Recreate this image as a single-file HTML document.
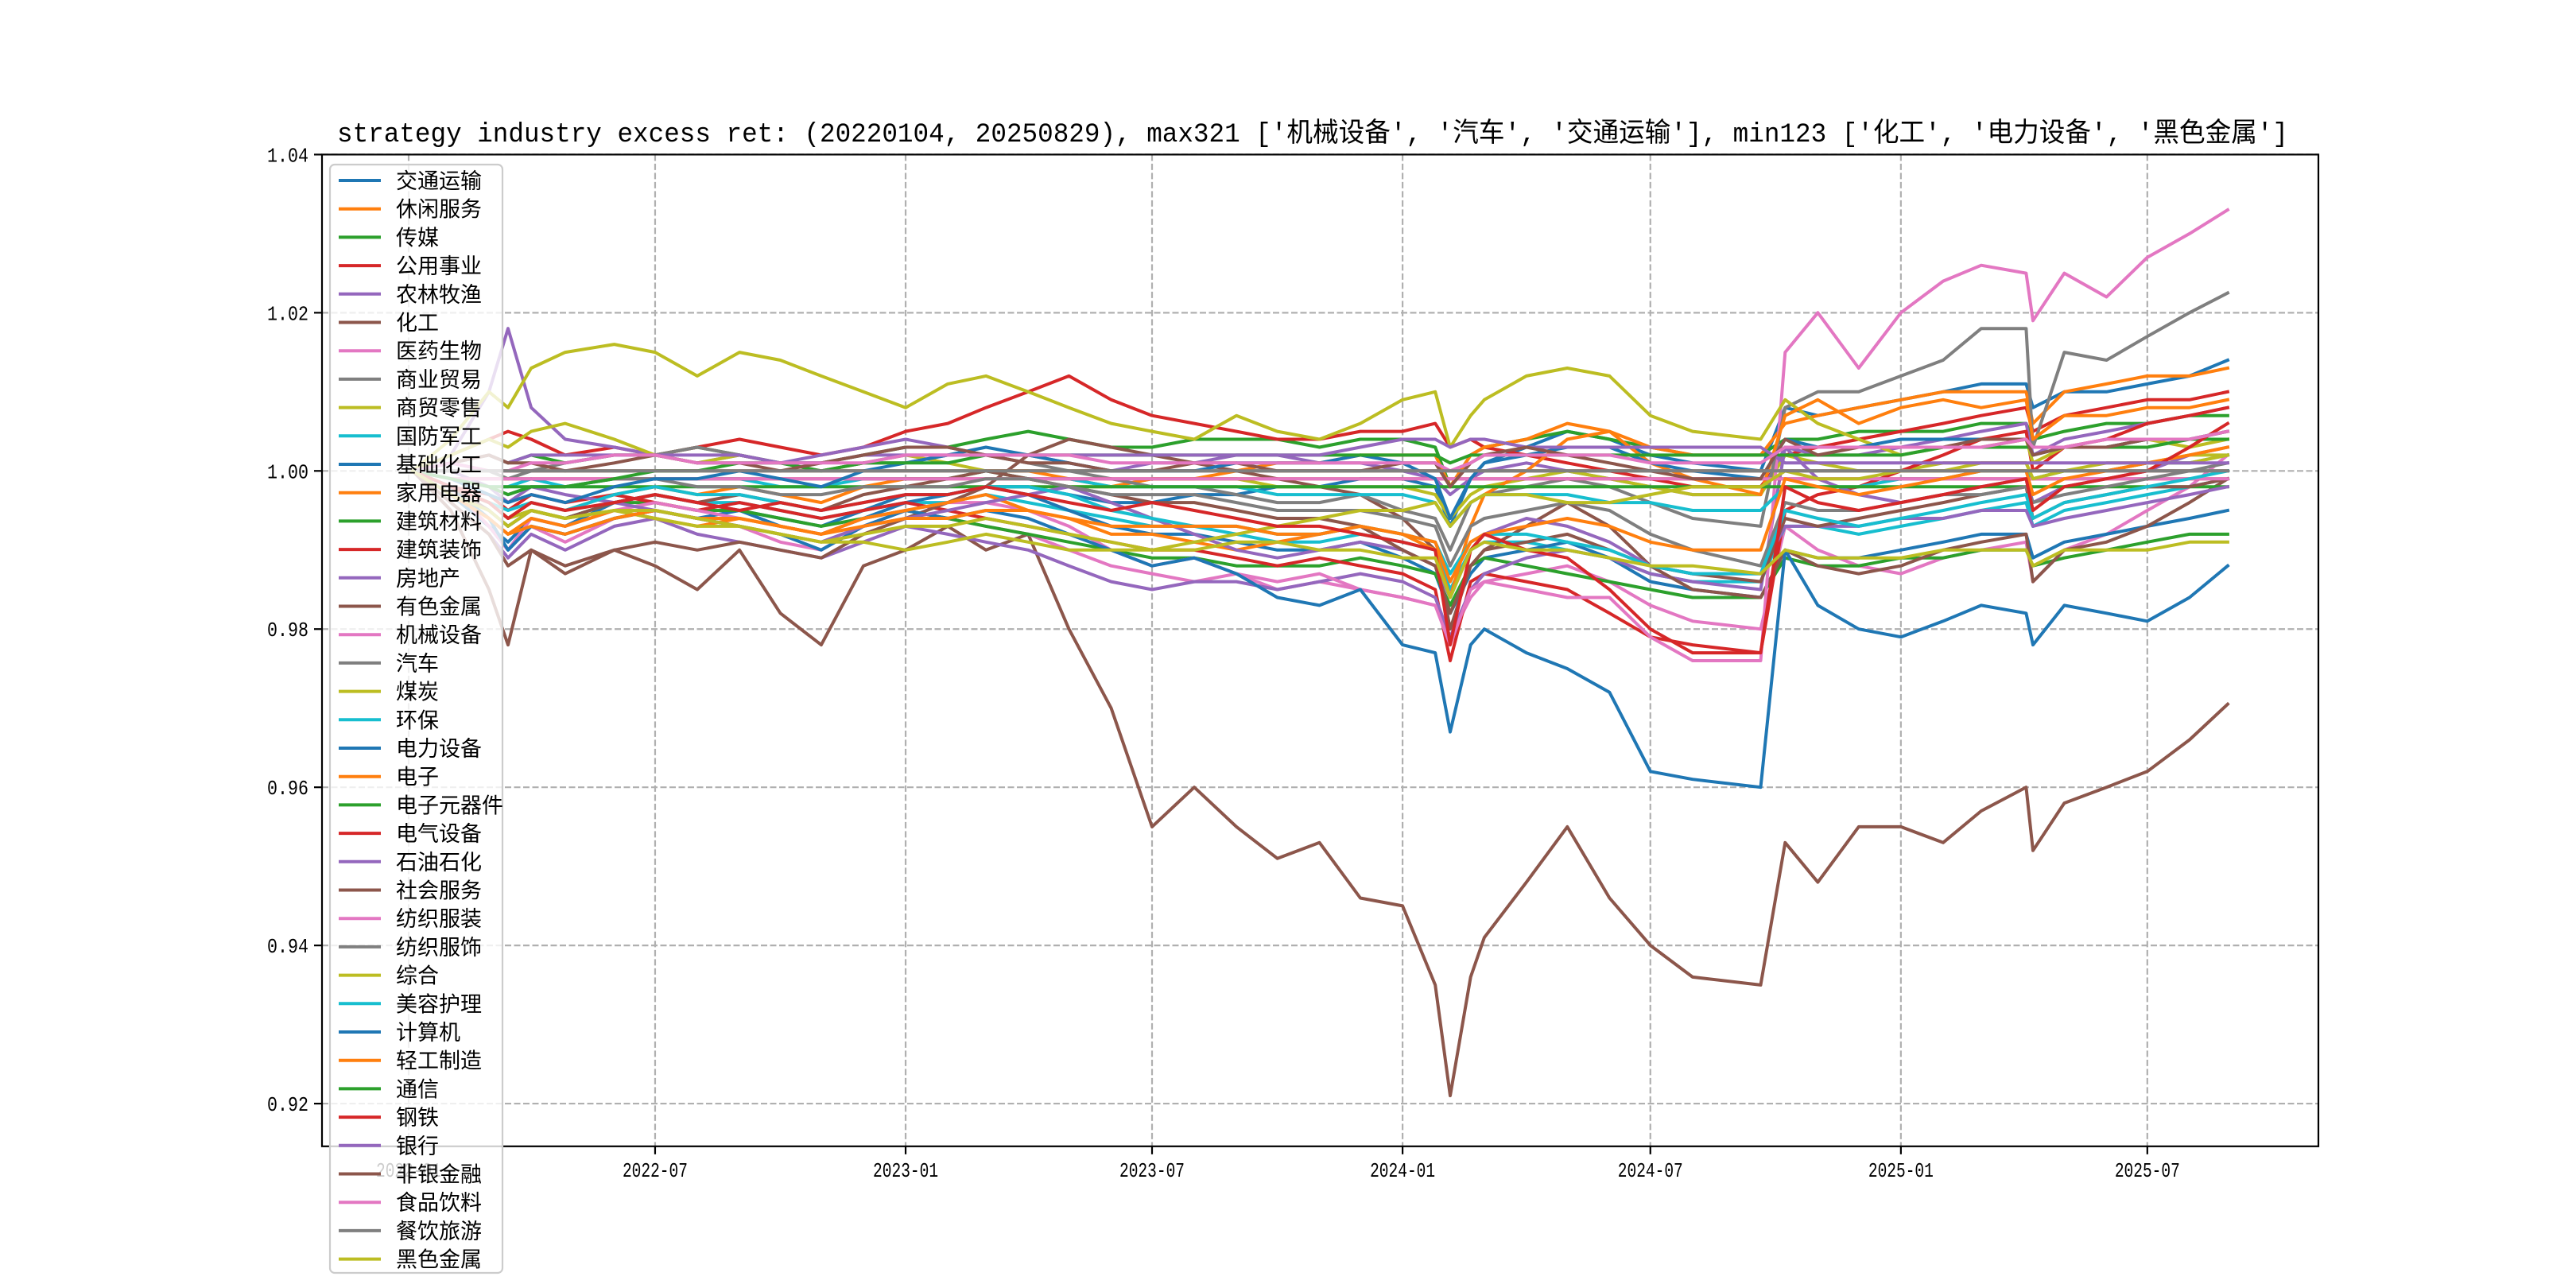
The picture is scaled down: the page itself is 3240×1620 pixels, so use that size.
<!DOCTYPE html>
<html><head><meta charset="utf-8">
<style>
html,body{margin:0;padding:0;background:#fff;}
svg{display:block;}
</style></head>
<body>
<svg id="chart" width="3240" height="1620" viewBox="0 0 3240 1620" xmlns="http://www.w3.org/2000/svg">
<rect x="0" y="0" width="3240" height="1620" fill="#fff"/>
<text x="424" y="178" font-family="'Liberation Mono','WenQuanYi Zen Hei','Noto Sans CJK SC',monospace" font-size="34" textLength="2454" lengthAdjust="spacingAndGlyphs">strategy industry excess ret: (20220104, 20250829), max321 ['机械设备', '汽车', '交通运输'], min123 ['化工', '电力设备', '黑色金属']</text>
<g id="grid"></g>
<g id="lines"></g>
<rect x="405" y="194.4" width="2511" height="1247.4" fill="none" stroke="#000" stroke-width="2.2"/>
<g id="ticks"></g>
<g id="legend"></g>
</svg>
<script>
const dates = ["2022-01-04","2022-02-01","2022-03-01","2022-03-15","2022-04-01","2022-04-26","2022-06-01","2022-07-01","2022-08-01","2022-09-01","2022-10-01","2022-10-31","2022-12-01","2023-01-01","2023-02-01","2023-03-01","2023-04-01","2023-05-01","2023-06-01","2023-07-01","2023-08-01","2023-09-01","2023-10-01","2023-11-01","2023-12-01","2024-01-01","2024-01-25","2024-02-05","2024-02-20","2024-03-01","2024-04-01","2024-05-01","2024-06-01","2024-07-01","2024-08-01","2024-09-20","2024-10-08","2024-11-01","2024-12-01","2025-01-01","2025-02-01","2025-03-01","2025-04-03","2025-04-08","2025-05-01","2025-06-01","2025-07-01","2025-08-01","2025-08-29"];
const seriesNames = ["交通运输","休闲服务","传媒","公用事业","农林牧渔","化工","医药生物","商业贸易","商贸零售","国防军工","基础化工","家用电器","建筑材料","建筑装饰","房地产","有色金属","机械设备","汽车","煤炭","环保","电力设备","电子","电子元器件","电气设备","石油石化","社会服务","纺织服装","纺织服饰","综合","美容护理","计算机","轻工制造","通信","钢铁","银行","非银金融","食品饮料","餐饮旅游","黑色金属"];
const yTicks = [0.92,0.94,0.96,0.98,1.00,1.02,1.04];
const yTickLabels = ["0.92","0.94","0.96","0.98","1.00","1.02","1.04"];
const xTicks = ["2022-01-01","2022-07-01","2023-01-01","2023-07-01","2024-01-01","2024-07-01","2025-01-01","2025-07-01"];
const xTickLabels = ["2022-01","2022-07","2023-01","2023-07","2024-01","2024-07","2025-01","2025-07"];

const v00 = [1.000,0.997,0.993,0.991,0.994,0.993,0.996,0.997,0.996,0.995,0.994,0.993,0.995,0.997,0.997,0.998,0.998,0.997,0.996,0.996,0.997,0.997,0.998,0.998,0.999,0.999,0.998,0.993,0.999,1.001,1.003,1.005,1.004,1.002,1.001,1.000,1.008,1.007,1.008,1.009,1.010,1.011,1.011,1.008,1.010,1.010,1.011,1.012,1.014];
const v01 = [1.000,1.000,1.000,1.000,1.000,1.000,1.000,1.000,1.000,1.000,1.000,1.000,1.000,1.000,1.000,1.000,1.000,1.000,1.000,1.000,1.000,1.000,1.000,1.000,1.000,1.000,1.000,1.000,1.000,1.000,1.000,1.000,1.000,1.000,1.000,1.000,1.000,1.000,1.000,1.000,1.000,1.000,1.000,1.000,1.000,1.000,1.000,1.000,1.000];
const v02 = [1.000,1.001,1.002,1.001,1.002,1.001,1.002,1.002,1.003,1.002,1.001,1.001,1.002,1.003,1.003,1.004,1.005,1.004,1.003,1.003,1.004,1.004,1.004,1.003,1.004,1.004,1.003,0.998,1.002,1.003,1.004,1.005,1.004,1.003,1.002,1.002,1.004,1.004,1.005,1.005,1.005,1.006,1.006,1.004,1.005,1.006,1.006,1.007,1.007];
const v03 = [1.000,1.002,1.004,1.005,1.004,1.002,1.003,1.002,1.003,1.004,1.003,1.002,1.003,1.005,1.006,1.008,1.010,1.012,1.009,1.007,1.006,1.005,1.004,1.004,1.005,1.005,1.006,1.003,1.004,1.003,1.002,1.001,1.000,0.999,0.998,0.998,1.002,1.003,1.004,1.005,1.006,1.007,1.008,1.005,1.007,1.008,1.009,1.009,1.010];
const v04 = [1.000,1.002,1.010,1.018,1.008,1.004,1.003,1.002,1.001,1.002,1.001,1.002,1.003,1.004,1.003,1.002,1.002,1.001,1.000,1.001,1.001,1.002,1.002,1.001,1.001,1.000,0.999,0.997,0.999,1.000,1.001,1.000,0.999,0.998,0.997,0.997,1.003,1.002,1.002,1.003,1.004,1.005,1.006,1.002,1.004,1.005,1.006,1.007,1.008];
const v05 = [1.000,0.995,0.985,0.978,0.990,0.987,0.990,0.988,0.985,0.990,0.982,0.978,0.988,0.990,0.993,0.990,0.992,0.980,0.970,0.955,0.960,0.955,0.951,0.953,0.946,0.945,0.935,0.921,0.936,0.941,0.948,0.955,0.946,0.940,0.936,0.935,0.953,0.948,0.955,0.955,0.953,0.957,0.960,0.952,0.958,0.960,0.962,0.966,0.9705];
const v06 = [1.000,0.997,0.993,0.990,0.993,0.991,0.994,0.995,0.994,0.993,0.991,0.990,0.993,0.995,0.994,0.993,0.992,0.990,0.988,0.987,0.986,0.987,0.985,0.986,0.985,0.984,0.983,0.979,0.984,0.986,0.987,0.988,0.986,0.983,0.981,0.980,0.993,0.990,0.988,0.987,0.989,0.990,0.991,0.986,0.990,0.992,0.995,0.998,1.002];
const v07 = [1.000,1.000,1.000,1.000,1.000,1.000,1.000,1.000,1.000,1.000,1.000,1.000,1.000,1.000,1.000,1.000,1.000,1.000,1.000,1.000,1.000,1.000,1.000,1.000,1.000,1.000,1.000,1.000,1.000,1.000,1.000,1.000,1.000,1.000,1.000,1.000,1.000,1.000,1.000,1.000,1.000,1.000,1.000,1.000,1.000,1.000,1.000,1.000,1.000];
const v08 = [1.000,1.002,1.004,1.003,1.005,1.006,1.004,1.002,1.001,1.002,1.001,1.000,1.001,1.002,1.001,1.000,0.999,0.998,0.998,0.999,0.999,0.999,0.998,0.998,0.998,0.998,0.997,0.994,0.997,0.998,0.999,1.000,0.999,0.998,0.997,0.997,1.002,1.001,1.000,1.000,1.001,1.001,1.001,0.999,1.000,1.001,1.001,1.002,1.002];
const v09 = [1.000,0.998,0.995,0.993,0.995,0.994,0.996,0.997,0.996,0.996,0.995,0.994,0.995,0.996,0.996,0.997,0.996,0.995,0.994,0.993,0.993,0.992,0.991,0.991,0.992,0.991,0.990,0.985,0.990,0.991,0.991,0.990,0.989,0.987,0.986,0.986,0.993,0.993,0.992,0.993,0.994,0.995,0.996,0.993,0.995,0.996,0.997,0.998,0.999];
const v10 = [1.000,0.997,0.993,0.990,0.993,0.992,0.994,0.995,0.994,0.995,0.993,0.992,0.994,0.996,0.997,0.998,0.997,0.995,0.993,0.992,0.992,0.991,0.990,0.990,0.991,0.989,0.987,0.982,0.987,0.989,0.990,0.991,0.989,0.986,0.985,0.984,0.990,0.989,0.989,0.990,0.991,0.992,0.992,0.989,0.991,0.992,0.993,0.994,0.995];
const v11 = [1.000,0.998,0.996,0.994,0.996,0.995,0.997,0.998,0.997,0.998,0.997,0.996,0.998,0.999,0.999,1.000,1.000,0.999,0.998,0.999,0.999,1.000,1.001,1.001,1.002,1.002,1.002,0.998,1.002,1.003,1.004,1.006,1.005,1.003,1.002,1.002,1.006,1.007,1.008,1.009,1.010,1.010,1.010,1.006,1.010,1.011,1.012,1.012,1.013];
const v12 = [1.000,0.998,0.996,0.994,0.995,0.994,0.996,0.996,0.995,0.995,0.994,0.993,0.994,0.995,0.994,0.993,0.992,0.991,0.990,0.989,0.989,0.988,0.988,0.988,0.989,0.988,0.987,0.983,0.988,0.989,0.988,0.987,0.986,0.985,0.984,0.984,0.989,0.988,0.988,0.989,0.989,0.990,0.990,0.988,0.989,0.990,0.991,0.992,0.992];
const v13 = [1.000,0.998,0.997,0.995,0.997,0.996,0.997,0.996,0.995,0.996,0.995,0.994,0.995,0.996,0.995,0.994,0.993,0.992,0.991,0.990,0.990,0.989,0.988,0.989,0.988,0.987,0.985,0.976,0.986,0.987,0.986,0.985,0.982,0.979,0.978,0.977,0.995,0.997,0.998,1.000,1.002,1.004,1.005,1.000,1.003,1.004,1.006,1.007,1.008];
const v14 = [1.000,0.996,0.992,0.989,0.992,0.990,0.993,0.994,0.992,0.991,0.990,0.989,0.991,0.993,0.992,0.991,0.990,0.988,0.986,0.985,0.986,0.986,0.985,0.986,0.987,0.986,0.984,0.979,0.985,0.987,0.989,0.990,0.989,0.987,0.986,0.985,1.003,0.999,0.997,0.996,0.997,0.998,0.999,0.996,0.998,0.999,1.000,1.002,1.003];
const v15 = [1.000,0.996,0.992,0.988,0.990,0.988,0.990,0.991,0.990,0.991,0.990,0.989,0.992,0.994,0.996,0.998,1.002,1.004,1.003,1.002,1.001,1.000,0.999,0.998,0.997,0.994,0.990,0.980,0.988,0.990,0.993,0.996,0.993,0.988,0.985,0.984,0.990,0.988,0.987,0.988,0.990,0.991,0.992,0.986,0.990,0.991,0.993,0.996,0.999];
const v16 = [1.000,0.998,0.993,0.990,0.994,0.993,0.995,0.996,0.995,0.994,0.993,0.992,0.994,0.995,0.996,0.996,0.995,0.993,0.990,0.988,0.989,0.987,0.986,0.987,0.985,0.984,0.983,0.978,0.985,0.986,0.985,0.984,0.984,0.979,0.976,0.976,1.015,1.020,1.013,1.020,1.024,1.026,1.025,1.019,1.025,1.022,1.027,1.030,1.033];
const v17 = [1.000,1.001,1.000,0.999,1.000,1.001,1.002,1.002,1.003,1.002,1.001,1.000,1.001,1.001,1.002,1.002,1.001,1.000,0.999,0.998,0.998,0.997,0.996,0.996,0.997,0.995,0.994,0.990,0.996,0.997,0.998,0.999,0.998,0.996,0.994,0.993,1.008,1.010,1.010,1.012,1.014,1.018,1.018,1.003,1.015,1.014,1.017,1.020,1.0225];
const v18 = [1.000,1.004,1.010,1.008,1.013,1.015,1.016,1.015,1.012,1.015,1.014,1.012,1.010,1.008,1.011,1.012,1.010,1.008,1.006,1.005,1.004,1.007,1.005,1.004,1.006,1.009,1.010,1.003,1.007,1.009,1.012,1.013,1.012,1.007,1.005,1.004,1.009,1.006,1.004,1.002,1.003,1.003,1.004,1.001,1.003,1.003,1.004,1.003,1.004];
const v19 = [1.000,0.999,0.998,0.998,0.999,0.998,0.999,0.999,0.999,0.999,0.998,0.998,0.999,0.999,0.999,1.000,0.999,0.999,0.998,0.998,0.998,0.998,0.997,0.997,0.997,0.997,0.996,0.993,0.996,0.997,0.997,0.997,0.996,0.996,0.995,0.995,0.998,0.998,0.998,0.999,0.999,1.000,1.000,0.999,1.000,1.000,1.001,1.001,1.002];
const v20 = [1.000,0.998,0.994,0.990,0.993,0.992,0.994,0.995,0.994,0.993,0.992,0.990,0.993,0.995,0.994,0.995,0.994,0.992,0.990,0.988,0.989,0.987,0.984,0.983,0.985,0.978,0.977,0.967,0.978,0.980,0.977,0.975,0.972,0.962,0.961,0.960,0.990,0.983,0.980,0.979,0.981,0.983,0.982,0.978,0.983,0.982,0.981,0.984,0.988];
const v21 = [1.000,0.997,0.994,0.992,0.994,0.993,0.995,0.994,0.993,0.994,0.993,0.992,0.994,0.995,0.996,0.997,0.995,0.994,0.992,0.992,0.991,0.990,0.991,0.992,0.993,0.992,0.990,0.984,0.993,0.997,1.000,1.004,1.005,1.001,0.999,0.997,1.007,1.009,1.006,1.008,1.009,1.008,1.009,1.004,1.007,1.007,1.008,1.008,1.009];
const v22 = [1.000,0.999,0.998,0.998,0.998,0.998,0.998,0.998,0.998,0.998,0.998,0.998,0.998,0.998,0.998,0.998,0.998,0.998,0.998,0.998,0.998,0.998,0.998,0.998,0.998,0.998,0.998,0.998,0.998,0.998,0.998,0.998,0.998,0.998,0.998,0.998,0.998,0.998,0.998,0.998,0.998,0.998,0.998,0.998,0.998,0.998,0.998,0.998,0.998];
const v23 = [1.000,0.999,0.999,0.999,0.999,0.999,0.999,0.999,0.999,0.999,0.999,0.999,0.999,0.999,0.999,0.999,0.999,0.999,0.999,0.999,0.999,0.999,0.999,0.999,0.999,0.999,0.999,0.999,0.999,0.999,0.999,0.999,0.999,0.999,0.999,0.999,0.999,0.999,0.999,0.999,0.999,0.999,0.999,0.999,0.999,0.999,0.999,0.999,0.999];
const v24 = [1.000,1.000,0.998,0.996,0.998,0.997,0.996,0.995,0.994,0.993,0.992,0.991,0.993,0.994,0.995,0.996,0.997,0.998,0.996,0.994,0.992,0.990,0.989,0.990,0.991,0.990,0.988,0.984,0.990,0.992,0.994,0.993,0.991,0.988,0.987,0.987,0.993,0.993,0.993,0.994,0.994,0.995,0.995,0.993,0.994,0.995,0.996,0.997,0.998];
const v25 = [1.000,0.998,0.995,0.993,0.995,0.994,0.996,0.997,0.996,0.997,0.996,0.995,0.997,0.998,0.999,1.000,0.999,0.998,0.997,0.996,0.996,0.995,0.994,0.994,0.993,0.990,0.988,0.982,0.988,0.990,0.991,0.992,0.990,0.988,0.987,0.986,0.994,0.993,0.994,0.995,0.996,0.997,0.998,0.994,0.996,0.997,0.998,0.998,0.999];
const v26 = [1.000,0.999,0.999,0.999,0.999,0.999,0.999,0.999,0.999,0.999,0.999,0.999,0.999,0.999,0.999,0.999,0.999,0.999,0.999,0.999,0.999,0.999,0.999,0.999,0.999,0.999,0.999,0.999,0.999,0.999,0.999,0.999,0.999,0.999,0.999,0.999,0.999,0.999,0.999,0.999,0.999,0.999,0.999,0.999,0.999,0.999,0.999,0.999,0.999];
const v27 = [1.000,0.999,0.998,0.997,0.998,0.998,0.999,0.999,0.998,0.998,0.997,0.997,0.998,0.998,0.998,0.999,0.999,0.998,0.997,0.997,0.997,0.996,0.995,0.995,0.995,0.994,0.993,0.988,0.993,0.994,0.995,0.996,0.995,0.992,0.990,0.988,0.996,0.995,0.995,0.996,0.997,0.997,0.998,0.996,0.997,0.998,0.999,1.000,1.001];
const v28 = [1.000,0.998,0.996,0.994,0.995,0.994,0.995,0.994,0.993,0.993,0.992,0.991,0.991,0.990,0.991,0.992,0.991,0.990,0.990,0.990,0.991,0.992,0.993,0.994,0.995,0.995,0.996,0.993,0.996,0.997,0.997,0.996,0.996,0.997,0.998,0.998,1.000,0.999,0.999,1.000,1.000,1.001,1.001,0.999,1.000,1.000,1.001,1.001,1.002];
const v29 = [1.000,0.998,0.996,0.995,0.996,0.995,0.997,0.998,0.997,0.997,0.996,0.995,0.996,0.997,0.997,0.998,0.998,0.997,0.995,0.994,0.993,0.993,0.992,0.992,0.993,0.992,0.991,0.987,0.991,0.992,0.992,0.991,0.990,0.988,0.987,0.987,0.995,0.994,0.993,0.994,0.995,0.996,0.997,0.994,0.996,0.997,0.998,0.999,1.000];
const v30 = [1.000,0.999,0.997,0.996,0.997,0.996,0.998,0.999,0.999,1.000,0.999,0.998,1.000,1.001,1.002,1.003,1.002,1.001,1.000,1.000,1.000,1.001,1.001,1.001,1.002,1.001,0.999,0.994,0.999,1.001,1.002,1.003,1.003,1.001,1.000,0.999,1.004,1.003,1.003,1.004,1.004,1.004,1.004,1.002,1.003,1.003,1.004,1.004,1.005];
const v31 = [1.000,0.997,0.994,0.992,0.993,0.992,0.994,0.995,0.994,0.994,0.993,0.992,0.993,0.994,0.994,0.995,0.995,0.994,0.993,0.993,0.993,0.993,0.992,0.992,0.993,0.992,0.991,0.986,0.991,0.992,0.993,0.994,0.993,0.991,0.990,0.990,0.999,0.998,0.997,0.998,0.999,1.000,1.000,0.997,0.999,1.000,1.001,1.002,1.003];
const v32 = [1.000,0.999,0.998,0.997,0.998,0.998,0.999,1.000,1.000,1.001,1.001,1.000,1.001,1.001,1.001,1.002,1.002,1.002,1.002,1.002,1.002,1.002,1.002,1.002,1.002,1.002,1.002,1.001,1.002,1.002,1.002,1.002,1.002,1.002,1.002,1.002,1.002,1.002,1.002,1.002,1.003,1.003,1.003,1.003,1.003,1.003,1.003,1.004,1.004];
const v33 = [1.000,0.998,0.996,0.994,0.996,0.995,0.996,0.997,0.996,0.995,0.996,0.995,0.996,0.997,0.997,0.998,0.997,0.996,0.995,0.996,0.995,0.994,0.993,0.993,0.992,0.991,0.990,0.978,0.990,0.992,0.990,0.989,0.985,0.980,0.977,0.977,0.998,0.996,0.995,0.996,0.997,0.998,0.999,0.995,0.998,0.999,1.000,1.003,1.006];
const v34 = [1.000,1.001,1.002,1.001,1.002,1.002,1.002,1.002,1.002,1.002,1.001,1.001,1.002,1.002,1.002,1.002,1.002,1.002,1.002,1.002,1.002,1.002,1.002,1.002,1.003,1.004,1.004,1.003,1.004,1.004,1.003,1.003,1.003,1.003,1.003,1.003,1.001,1.001,1.001,1.001,1.001,1.001,1.001,1.001,1.001,1.001,1.001,1.001,1.001];
const v35 = [1.000,1.001,1.002,1.001,1.001,1.000,1.001,1.002,1.001,1.001,1.000,1.001,1.002,1.003,1.003,1.002,1.001,1.001,1.000,1.000,1.001,1.001,1.000,1.000,1.000,1.001,1.001,0.998,1.001,1.002,1.003,1.002,1.001,1.000,0.999,0.999,1.004,1.002,1.003,1.003,1.003,1.004,1.004,1.002,1.003,1.003,1.004,1.004,1.005];
const v36 = [1.000,1.001,1.000,1.000,1.001,1.001,1.002,1.002,1.001,1.001,1.001,1.001,1.001,1.002,1.002,1.002,1.002,1.002,1.001,1.001,1.001,1.001,1.001,1.001,1.001,1.001,1.001,1.000,1.001,1.002,1.002,1.002,1.002,1.001,1.001,1.001,1.003,1.003,1.003,1.003,1.003,1.003,1.004,1.003,1.003,1.004,1.004,1.004,1.005];
const v37 = [1.000,1.000,1.000,1.000,1.000,1.000,1.000,1.000,1.000,1.000,1.000,1.000,1.000,1.000,1.000,1.000,1.000,1.000,1.000,1.000,1.000,1.000,1.000,1.000,1.000,1.000,1.000,1.000,1.000,1.000,1.000,1.000,1.000,1.000,1.000,1.000,1.000,1.000,1.000,1.000,1.000,1.000,1.000,1.000,1.000,1.000,1.000,1.000,1.000];
const v38 = [1.000,0.997,0.995,0.993,0.995,0.994,0.995,0.995,0.994,0.993,0.992,0.991,0.992,0.993,0.993,0.994,0.993,0.992,0.991,0.990,0.990,0.991,0.991,0.990,0.990,0.989,0.989,0.984,0.990,0.991,0.990,0.990,0.989,0.988,0.988,0.987,0.990,0.989,0.989,0.989,0.990,0.990,0.990,0.988,0.990,0.990,0.990,0.991,0.991];
const seriesValues = [v00,v01,v02,v03,v04,v05,v06,v07,v08,v09,v10,v11,v12,v13,v14,v15,v16,v17,v18,v19,v20,v21,v22,v23,v24,v25,v26,v27,v28,v29,v30,v31,v32,v33,v34,v35,v36,v37,v38];

const NS = "http://www.w3.org/2000/svg";
const palette = ["#1f77b4","#ff7f0e","#2ca02c","#d62728","#9467bd","#8c564b","#e377c2","#7f7f7f","#bcbd22","#17becf"];
const AX = {left:405, top:194.4, width:2511, height:1247.4};
const YMIN = 0.9146, YMAX = 1.04;
const DAY = 86400000;
const t0 = Date.parse(dates[0]), t1 = Date.parse(dates[dates.length-1]);
const span = t1 - t0;
const XMIN = t0 - 0.05*span, XMAX = t1 + 0.05*span;
function xScale(d){ return AX.left + (Date.parse(d) - XMIN)/(XMAX - XMIN)*AX.width; }
function yScale(v){ return AX.top + (YMAX - v)/(YMAX - YMIN)*AX.height; }
function mk(tag, attrs){ const e = document.createElementNS(NS, tag); for (const k in attrs) e.setAttribute(k, attrs[k]); return e; }

const grid = document.getElementById('grid');
const ticks = document.getElementById('ticks');
const FONT = "'Liberation Mono','WenQuanYi Zen Hei',monospace";
yTicks.forEach((v,i)=>{
  const y = yScale(v);
  const g = mk('line',{x1:AX.left,x2:AX.left+AX.width,y1:y,y2:y,stroke:'#b0b0b0','stroke-width':2.2,'stroke-dasharray':'8 3.5'});
  
  
  grid.appendChild(g);
  const t = mk('line',{x1:AX.left-10,x2:AX.left,y1:y,y2:y,stroke:'#000','stroke-width':2.2});
  
  
  ticks.appendChild(t);
  const l = mk('text',{x:AX.left-17,y:y+9,'text-anchor':'end','font-family':FONT,'font-size':26,textLength:52,lengthAdjust:'spacingAndGlyphs'});
  l.textContent = yTickLabels[i];
  
  
  ticks.appendChild(l);
});
xTicks.forEach((d,i)=>{
  const x = xScale(d);
  const g = mk('line',{x1:x,x2:x,y1:AX.top,y2:AX.top+AX.height,stroke:'#b0b0b0','stroke-width':2.2,'stroke-dasharray':'8 3.5'});
  
  
  grid.appendChild(g);
  const t = mk('line',{x1:x,x2:x,y1:AX.top+AX.height,y2:AX.top+AX.height+10,stroke:'#000','stroke-width':2.2});
  
  
  ticks.appendChild(t);
  const l = mk('text',{x:x,y:AX.top+AX.height+38,'text-anchor':'middle','font-family':FONT,'font-size':26,textLength:82,lengthAdjust:'spacingAndGlyphs'});
  l.textContent = xTickLabels[i];
  
  
  ticks.appendChild(l);
});

const lines = document.getElementById('lines');
const clip = mk('clipPath',{id:'axclip'});
clip.appendChild(mk('rect',{x:AX.left,y:AX.top,width:AX.width,height:AX.height}));
document.getElementById('chart').insertBefore(clip, lines);
lines.setAttribute('clip-path','url(#axclip)');
seriesValues.forEach((vals,si)=>{
  const pts = vals.map((v,i)=> xScale(dates[i]).toFixed(1)+','+yScale(v).toFixed(1)).join(' ');
  const p = mk('polyline',{points:pts,fill:'none',stroke:palette[si%10],'stroke-width':4,'stroke-linejoin':'round','stroke-linecap':'square'});
  
  
  lines.appendChild(p);
});

const legend = document.getElementById('legend');
const box = mk('rect',{x:415,y:207,width:217,height:1394,rx:6,fill:'#fff','fill-opacity':0.8,stroke:'#cccccc','stroke-width':2.2});


legend.appendChild(box);
seriesNames.forEach((n,i)=>{
  const y = 227 + i*35.7;
  const h = mk('line',{x1:426,x2:479,y1:y,y2:y,stroke:palette[i%10],'stroke-width':4});
  
  
  legend.appendChild(h);
  const t = mk('text',{x:498,y:y+10,'font-family':"'Liberation Sans','WenQuanYi Zen Hei','Noto Sans CJK SC',sans-serif",'font-size':27});
  t.textContent = n;
  
  
  legend.appendChild(t);
});
</script>
</body></html>
